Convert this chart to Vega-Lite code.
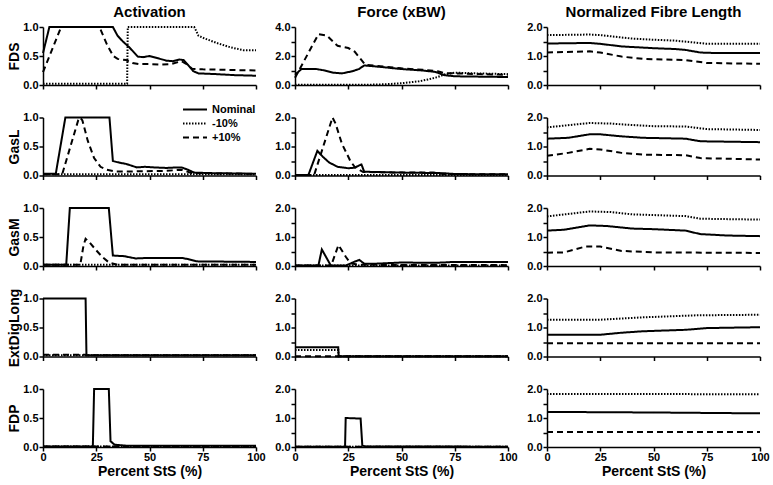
{
  "$schema": "https://vega.github.io/schema/vega-lite/v6.json",
  "background": "white",
  "padding": {"left": 7, "top": 5, "right": 0, "bottom": 5},
  "bounds": "flush",
  "columns": 3,
  "spacing": {"row": 32.5, "column": 39},
  "resolve": {"scale": {"strokeDash": "independent"}, "legend": {"strokeDash": "independent"}},
  "datasets": {
    "FDS_act": [
      {"c":"Nominal","x":0,"y":0.55},{"c":"Nominal","x":3,"y":1},{"c":"Nominal","x":32.8,"y":1},{"c":"Nominal","x":35,"y":0.85},{"c":"Nominal","x":37.5,"y":0.75},{"c":"Nominal","x":40.5,"y":0.65},{"c":"Nominal","x":44.5,"y":0.49},{"c":"Nominal","x":47,"y":0.48},{"c":"Nominal","x":50,"y":0.5},{"c":"Nominal","x":54,"y":0.46},{"c":"Nominal","x":58,"y":0.42},{"c":"Nominal","x":61,"y":0.41},{"c":"Nominal","x":64,"y":0.44},{"c":"Nominal","x":66,"y":0.43},{"c":"Nominal","x":68,"y":0.35},{"c":"Nominal","x":70.5,"y":0.24},{"c":"Nominal","x":73,"y":0.2},{"c":"Nominal","x":80,"y":0.19},{"c":"Nominal","x":90,"y":0.17},{"c":"Nominal","x":100,"y":0.16},
      {"c":"+10%","x":0,"y":0.22},{"c":"+10%","x":8.5,"y":1},{"c":"+10%","x":26.5,"y":1},{"c":"+10%","x":30,"y":0.7},{"c":"+10%","x":33,"y":0.5},{"c":"+10%","x":35,"y":0.45},{"c":"+10%","x":39,"y":0.43},{"c":"+10%","x":42,"y":0.38},{"c":"+10%","x":45,"y":0.36},{"c":"+10%","x":50,"y":0.36},{"c":"+10%","x":55,"y":0.35},{"c":"+10%","x":60,"y":0.36},{"c":"+10%","x":65,"y":0.41},{"c":"+10%","x":67,"y":0.37},{"c":"+10%","x":70,"y":0.28},{"c":"+10%","x":75,"y":0.27},{"c":"+10%","x":100,"y":0.25},
      {"c":"-10%","x":0,"y":0.02},{"c":"-10%","x":39.5,"y":0.02},{"c":"-10%","x":39.8,"y":1},{"c":"-10%","x":71,"y":1},{"c":"-10%","x":73,"y":0.85},{"c":"-10%","x":76,"y":0.8},{"c":"-10%","x":82,"y":0.72},{"c":"-10%","x":88,"y":0.65},{"c":"-10%","x":94,"y":0.6},{"c":"-10%","x":100,"y":0.6}
    ],
    "FDS_force": [
      {"c":"Nominal","x":0,"y":0.7},{"c":"Nominal","x":3,"y":1.1},{"c":"Nominal","x":10,"y":1.1},{"c":"Nominal","x":14,"y":1.0},{"c":"Nominal","x":18,"y":0.85},{"c":"Nominal","x":22,"y":0.8},{"c":"Nominal","x":27,"y":0.95},{"c":"Nominal","x":30,"y":1.1},{"c":"Nominal","x":32.5,"y":1.35},{"c":"Nominal","x":40,"y":1.25},{"c":"Nominal","x":50,"y":1.1},{"c":"Nominal","x":60,"y":1.0},{"c":"Nominal","x":66,"y":0.9},{"c":"Nominal","x":70,"y":0.68},{"c":"Nominal","x":75,"y":0.6},{"c":"Nominal","x":100,"y":0.55},
      {"c":"+10%","x":0,"y":0.5},{"c":"+10%","x":11,"y":3.5},{"c":"+10%","x":15,"y":3.4},{"c":"+10%","x":20,"y":2.7},{"c":"+10%","x":25,"y":2.55},{"c":"+10%","x":28,"y":2.3},{"c":"+10%","x":33,"y":1.4},{"c":"+10%","x":40,"y":1.3},{"c":"+10%","x":50,"y":1.15},{"c":"+10%","x":60,"y":1.05},{"c":"+10%","x":67,"y":0.95},{"c":"+10%","x":70,"y":0.82},{"c":"+10%","x":75,"y":0.8},{"c":"+10%","x":100,"y":0.7},
      {"c":"-10%","x":0,"y":0.02},{"c":"-10%","x":35,"y":0.02},{"c":"-10%","x":42,"y":0.05},{"c":"-10%","x":50,"y":0.12},{"c":"-10%","x":58,"y":0.25},{"c":"-10%","x":63,"y":0.4},{"c":"-10%","x":67,"y":0.55},{"c":"-10%","x":70,"y":0.72},{"c":"-10%","x":75,"y":0.85},{"c":"-10%","x":85,"y":0.8},{"c":"-10%","x":100,"y":0.75}
    ],
    "FDS_len": [
      {"c":"Nominal","x":0,"y":1.43},{"c":"Nominal","x":20,"y":1.45},{"c":"Nominal","x":25,"y":1.42},{"c":"Nominal","x":35,"y":1.33},{"c":"Nominal","x":50,"y":1.27},{"c":"Nominal","x":60,"y":1.24},{"c":"Nominal","x":65,"y":1.21},{"c":"Nominal","x":72,"y":1.12},{"c":"Nominal","x":80,"y":1.1},{"c":"Nominal","x":100,"y":1.1},
      {"c":"-10%","x":0,"y":1.72},{"c":"-10%","x":20,"y":1.74},{"c":"-10%","x":25,"y":1.72},{"c":"-10%","x":40,"y":1.6},{"c":"-10%","x":50,"y":1.56},{"c":"-10%","x":60,"y":1.53},{"c":"-10%","x":70,"y":1.46},{"c":"-10%","x":75,"y":1.42},{"c":"-10%","x":100,"y":1.42},
      {"c":"+10%","x":0,"y":1.12},{"c":"+10%","x":20,"y":1.16},{"c":"+10%","x":25,"y":1.12},{"c":"+10%","x":35,"y":0.98},{"c":"+10%","x":45,"y":0.9},{"c":"+10%","x":60,"y":0.87},{"c":"+10%","x":65,"y":0.86},{"c":"+10%","x":75,"y":0.76},{"c":"+10%","x":100,"y":0.73}
    ],
    "GasL_act": [
      {"c":"Nominal","x":0,"y":0.03},{"c":"Nominal","x":6,"y":0.03},{"c":"Nominal","x":10.5,"y":1},{"c":"Nominal","x":31.2,"y":1},{"c":"Nominal","x":32.8,"y":0.25},{"c":"Nominal","x":36,"y":0.22},{"c":"Nominal","x":39,"y":0.2},{"c":"Nominal","x":44,"y":0.14},{"c":"Nominal","x":48,"y":0.15},{"c":"Nominal","x":52,"y":0.14},{"c":"Nominal","x":58,"y":0.13},{"c":"Nominal","x":63,"y":0.14},{"c":"Nominal","x":65,"y":0.14},{"c":"Nominal","x":68,"y":0.1},{"c":"Nominal","x":71,"y":0.05},{"c":"Nominal","x":80,"y":0.04},{"c":"Nominal","x":100,"y":0.03},
      {"c":"+10%","x":0,"y":0.02},{"c":"+10%","x":9,"y":0.02},{"c":"+10%","x":16.5,"y":0.95},{"c":"+10%","x":17.5,"y":1.0},{"c":"+10%","x":18.5,"y":0.95},{"c":"+10%","x":21,"y":0.6},{"c":"+10%","x":24,"y":0.3},{"c":"+10%","x":27,"y":0.15},{"c":"+10%","x":30,"y":0.1},{"c":"+10%","x":34,"y":0.07},{"c":"+10%","x":42,"y":0.07},{"c":"+10%","x":58,"y":0.08},{"c":"+10%","x":65,"y":0.1},{"c":"+10%","x":70,"y":0.04},{"c":"+10%","x":100,"y":0.03},
      {"c":"-10%","x":0,"y":0.02},{"c":"-10%","x":100,"y":0.02}
    ],
    "GasL_force": [
      {"c":"Nominal","x":0,"y":0.02},{"c":"Nominal","x":6.3,"y":0.02},{"c":"Nominal","x":10.5,"y":0.85},{"c":"Nominal","x":13,"y":0.65},{"c":"Nominal","x":16,"y":0.45},{"c":"Nominal","x":20,"y":0.3},{"c":"Nominal","x":25,"y":0.25},{"c":"Nominal","x":28,"y":0.27},{"c":"Nominal","x":30.5,"y":0.36},{"c":"Nominal","x":31.2,"y":0.38},{"c":"Nominal","x":32.5,"y":0.13},{"c":"Nominal","x":50,"y":0.1},{"c":"Nominal","x":70,"y":0.08},{"c":"Nominal","x":75,"y":0.05},{"c":"Nominal","x":100,"y":0.04},
      {"c":"+10%","x":0,"y":0.02},{"c":"+10%","x":9,"y":0.02},{"c":"+10%","x":17.6,"y":2.0},{"c":"+10%","x":19,"y":1.8},{"c":"+10%","x":22,"y":1.1},{"c":"+10%","x":26,"y":0.5},{"c":"+10%","x":28,"y":0.3},{"c":"+10%","x":30,"y":0.2},{"c":"+10%","x":32,"y":0.12},{"c":"+10%","x":50,"y":0.1},{"c":"+10%","x":65,"y":0.1},{"c":"+10%","x":70,"y":0.05},{"c":"+10%","x":100,"y":0.04},
      {"c":"-10%","x":0,"y":0.02},{"c":"-10%","x":100,"y":0.02}
    ],
    "GasL_len": [
      {"c":"Nominal","x":0,"y":1.27},{"c":"Nominal","x":10,"y":1.3},{"c":"Nominal","x":20,"y":1.42},{"c":"Nominal","x":25,"y":1.42},{"c":"Nominal","x":35,"y":1.35},{"c":"Nominal","x":45,"y":1.3},{"c":"Nominal","x":65,"y":1.27},{"c":"Nominal","x":72,"y":1.18},{"c":"Nominal","x":100,"y":1.15},
      {"c":"-10%","x":0,"y":1.66},{"c":"-10%","x":20,"y":1.81},{"c":"-10%","x":30,"y":1.79},{"c":"-10%","x":40,"y":1.74},{"c":"-10%","x":50,"y":1.7},{"c":"-10%","x":65,"y":1.69},{"c":"-10%","x":75,"y":1.6},{"c":"-10%","x":100,"y":1.57},
      {"c":"+10%","x":0,"y":0.68},{"c":"+10%","x":10,"y":0.78},{"c":"+10%","x":20,"y":0.92},{"c":"+10%","x":25,"y":0.9},{"c":"+10%","x":35,"y":0.78},{"c":"+10%","x":45,"y":0.72},{"c":"+10%","x":65,"y":0.7},{"c":"+10%","x":72,"y":0.6},{"c":"+10%","x":100,"y":0.55}
    ],
    "GasM_act": [
      {"c":"Nominal","x":0,"y":0.02},{"c":"Nominal","x":10.9,"y":0.02},{"c":"Nominal","x":12.6,"y":1},{"c":"Nominal","x":30.9,"y":1},{"c":"Nominal","x":32.8,"y":0.18},{"c":"Nominal","x":38,"y":0.17},{"c":"Nominal","x":43.5,"y":0.13},{"c":"Nominal","x":50,"y":0.14},{"c":"Nominal","x":65,"y":0.14},{"c":"Nominal","x":68,"y":0.12},{"c":"Nominal","x":72,"y":0.08},{"c":"Nominal","x":100,"y":0.07},
      {"c":"+10%","x":0,"y":0.02},{"c":"+10%","x":17.5,"y":0.02},{"c":"+10%","x":19,"y":0.35},{"c":"+10%","x":20,"y":0.47},{"c":"+10%","x":22,"y":0.4},{"c":"+10%","x":25,"y":0.27},{"c":"+10%","x":28,"y":0.15},{"c":"+10%","x":31,"y":0.06},{"c":"+10%","x":35,"y":0.02},{"c":"+10%","x":100,"y":0.02},
      {"c":"-10%","x":0,"y":0.02},{"c":"-10%","x":100,"y":0.02}
    ],
    "GasM_force": [
      {"c":"Nominal","x":0,"y":0.02},{"c":"Nominal","x":11,"y":0.02},{"c":"Nominal","x":12.6,"y":0.57},{"c":"Nominal","x":16.8,"y":0.02},{"c":"Nominal","x":24,"y":0.02},{"c":"Nominal","x":28,"y":0.15},{"c":"Nominal","x":30.2,"y":0.21},{"c":"Nominal","x":32.5,"y":0.08},{"c":"Nominal","x":38,"y":0.08},{"c":"Nominal","x":44,"y":0.1},{"c":"Nominal","x":50,"y":0.12},{"c":"Nominal","x":65,"y":0.11},{"c":"Nominal","x":70,"y":0.12},{"c":"Nominal","x":74,"y":0.14},{"c":"Nominal","x":100,"y":0.14},
      {"c":"+10%","x":0,"y":0.02},{"c":"+10%","x":17,"y":0.02},{"c":"+10%","x":20.4,"y":0.72},{"c":"+10%","x":24,"y":0.3},{"c":"+10%","x":26,"y":0.1},{"c":"+10%","x":30,"y":0.04},{"c":"+10%","x":100,"y":0.03},
      {"c":"-10%","x":0,"y":0.02},{"c":"-10%","x":100,"y":0.02}
    ],
    "GasM_len": [
      {"c":"Nominal","x":0,"y":1.22},{"c":"Nominal","x":8,"y":1.25},{"c":"Nominal","x":20,"y":1.4},{"c":"Nominal","x":28,"y":1.38},{"c":"Nominal","x":40,"y":1.29},{"c":"Nominal","x":50,"y":1.27},{"c":"Nominal","x":65,"y":1.22},{"c":"Nominal","x":72,"y":1.1},{"c":"Nominal","x":85,"y":1.05},{"c":"Nominal","x":100,"y":1.03},
      {"c":"-10%","x":0,"y":1.71},{"c":"-10%","x":20,"y":1.88},{"c":"-10%","x":30,"y":1.86},{"c":"-10%","x":40,"y":1.78},{"c":"-10%","x":65,"y":1.72},{"c":"-10%","x":72,"y":1.63},{"c":"-10%","x":100,"y":1.6},
      {"c":"+10%","x":0,"y":0.46},{"c":"+10%","x":8,"y":0.47},{"c":"+10%","x":18,"y":0.67},{"c":"+10%","x":25,"y":0.67},{"c":"+10%","x":35,"y":0.52},{"c":"+10%","x":50,"y":0.47},{"c":"+10%","x":100,"y":0.45}
    ],
    "EDL_act": [
      {"c":"Nominal","x":0,"y":1},{"c":"Nominal","x":20,"y":1},{"c":"Nominal","x":20.4,"y":0.02},{"c":"Nominal","x":100,"y":0.02},
      {"c":"+10%","x":0,"y":0.03},{"c":"+10%","x":20,"y":0.03},{"c":"+10%","x":20.4,"y":0.02},{"c":"+10%","x":100,"y":0.02},
      {"c":"-10%","x":0,"y":0.02},{"c":"-10%","x":100,"y":0.02}
    ],
    "EDL_force": [
      {"c":"Nominal","x":0,"y":0.32},{"c":"Nominal","x":20.3,"y":0.32},{"c":"Nominal","x":20.5,"y":0.01},{"c":"Nominal","x":100,"y":0.01},
      {"c":"-10%","x":0,"y":0.22},{"c":"-10%","x":20.3,"y":0.22},{"c":"-10%","x":20.5,"y":0.01},{"c":"-10%","x":100,"y":0.01},
      {"c":"+10%","x":0,"y":0.01},{"c":"+10%","x":100,"y":0.01}
    ],
    "EDL_len": [
      {"c":"Nominal","x":0,"y":0.75},{"c":"Nominal","x":25,"y":0.75},{"c":"Nominal","x":35,"y":0.82},{"c":"Nominal","x":45,"y":0.87},{"c":"Nominal","x":65,"y":0.92},{"c":"Nominal","x":75,"y":0.98},{"c":"Nominal","x":100,"y":1.01},
      {"c":"-10%","x":0,"y":1.27},{"c":"-10%","x":25,"y":1.27},{"c":"-10%","x":45,"y":1.35},{"c":"-10%","x":70,"y":1.42},{"c":"-10%","x":100,"y":1.44},
      {"c":"+10%","x":0,"y":0.46},{"c":"+10%","x":100,"y":0.46}
    ],
    "FDP_act": [
      {"c":"Nominal","x":0,"y":0.01},{"c":"Nominal","x":23.4,"y":0.01},{"c":"Nominal","x":24,"y":1},{"c":"Nominal","x":30.9,"y":1},{"c":"Nominal","x":31.7,"y":0.1},{"c":"Nominal","x":33.6,"y":0.04},{"c":"Nominal","x":40,"y":0.02},{"c":"Nominal","x":100,"y":0.02},
      {"c":"+10%","x":0,"y":0.01},{"c":"+10%","x":100,"y":0.01},
      {"c":"-10%","x":0,"y":0.01},{"c":"-10%","x":100,"y":0.01}
    ],
    "FDP_force": [
      {"c":"Nominal","x":0,"y":0.01},{"c":"Nominal","x":23.5,"y":0.01},{"c":"Nominal","x":23.8,"y":1.0},{"c":"Nominal","x":30.8,"y":0.98},{"c":"Nominal","x":31.6,"y":0.05},{"c":"Nominal","x":33,"y":0.02},{"c":"Nominal","x":100,"y":0.01},
      {"c":"+10%","x":0,"y":0.01},{"c":"+10%","x":100,"y":0.01},
      {"c":"-10%","x":0,"y":0.01},{"c":"-10%","x":100,"y":0.01}
    ],
    "FDP_len": [
      {"c":"Nominal","x":0,"y":1.21},{"c":"Nominal","x":50,"y":1.19},{"c":"Nominal","x":100,"y":1.16},
      {"c":"-10%","x":0,"y":1.83},{"c":"-10%","x":100,"y":1.82},
      {"c":"+10%","x":0,"y":0.52},{"c":"+10%","x":100,"y":0.52}
    ]
  },
  "concat": [
    {"width":213,"height":58,"data":{"name":"FDS_act"},"title":"Activation","mark":"line",
     "encoding":{"x":{"field":"x","type":"quantitative","scale":{"domain":[0,100],"nice":false},"axis":{"title":null,"labels":false,"values":[0,25,50,75,100]}},
      "y":{"field":"y","type":"quantitative","scale":{"domain":[0,1],"nice":false},"axis":{"title":"FDS","values":[0,0.5,1],"format":".1f"}},
      "strokeDash":{"field":"c","type":"nominal","scale":{"domain":["Nominal","-10%","+10%"],"range":[[1,0],[1.5,1.5],[6,4]]},"legend":null}}},
    {"width":213,"height":58,"data":{"name":"FDS_force"},"title":"Force (xBW)","mark":"line",
     "encoding":{"x":{"field":"x","type":"quantitative","scale":{"domain":[0,100],"nice":false},"axis":{"title":null,"labels":false,"values":[0,25,50,75,100]}},
      "y":{"field":"y","type":"quantitative","scale":{"domain":[0,4],"nice":false},"axis":{"title":null,"values":[0,1,2,3,4],"labelExpr":"datum.value % 2 === 0 ? format(datum.value, '.1f') : ''"}},
      "strokeDash":{"field":"c","type":"nominal","scale":{"domain":["Nominal","-10%","+10%"],"range":[[1,0],[1.5,1.5],[6,4]]},"legend":null}}},
    {"width":213,"height":58,"data":{"name":"FDS_len"},"title":"Normalized Fibre Length","mark":"line",
     "encoding":{"x":{"field":"x","type":"quantitative","scale":{"domain":[0,100],"nice":false},"axis":{"title":null,"labels":false,"values":[0,25,50,75,100]}},
      "y":{"field":"y","type":"quantitative","scale":{"domain":[0,2],"nice":false},"axis":{"title":null,"values":[0,0.5,1,1.5,2],"labelExpr":"datum.value % 1 === 0 ? format(datum.value, '.1f') : ''"}},
      "strokeDash":{"field":"c","type":"nominal","scale":{"domain":["Nominal","-10%","+10%"],"range":[[1,0],[1.5,1.5],[6,4]]},"legend":null}}},

    {"width":213,"height":58,"data":{"name":"GasL_act"},"mark":"line",
     "encoding":{"x":{"field":"x","type":"quantitative","scale":{"domain":[0,100],"nice":false},"axis":{"title":null,"labels":false,"values":[0,25,50,75,100]}},
      "y":{"field":"y","type":"quantitative","scale":{"domain":[0,1],"nice":false},"axis":{"title":"GasL","values":[0,0.5,1],"format":".1f"}},
      "strokeDash":{"field":"c","type":"nominal","scale":{"domain":["Nominal","-10%","+10%"],"range":[[1,0],[1.5,1.5],[6,4]]},
        "legend":{"title":null,"orient":"none","legendX":146,"legendY":-14,"symbolType":"M-2.4,0H2.4","symbolSize":100,"symbolStrokeWidth":2,"symbolStrokeColor":"black","labelFont":"Liberation Sans","labelFontSize":11,"labelFontWeight":"bold","labelColor":"black","labelOffset":11,"rowPadding":3}}}},
    {"width":213,"height":58,"data":{"name":"GasL_force"},"mark":"line",
     "encoding":{"x":{"field":"x","type":"quantitative","scale":{"domain":[0,100],"nice":false},"axis":{"title":null,"labels":false,"values":[0,25,50,75,100]}},
      "y":{"field":"y","type":"quantitative","scale":{"domain":[0,2],"nice":false},"axis":{"title":null,"values":[0,0.5,1,1.5,2],"labelExpr":"datum.value % 1 === 0 ? format(datum.value, '.1f') : ''"}},
      "strokeDash":{"field":"c","type":"nominal","scale":{"domain":["Nominal","-10%","+10%"],"range":[[1,0],[1.5,1.5],[6,4]]},"legend":null}}},
    {"width":213,"height":58,"data":{"name":"GasL_len"},"mark":"line",
     "encoding":{"x":{"field":"x","type":"quantitative","scale":{"domain":[0,100],"nice":false},"axis":{"title":null,"labels":false,"values":[0,25,50,75,100]}},
      "y":{"field":"y","type":"quantitative","scale":{"domain":[0,2],"nice":false},"axis":{"title":null,"values":[0,0.5,1,1.5,2],"labelExpr":"datum.value % 1 === 0 ? format(datum.value, '.1f') : ''"}},
      "strokeDash":{"field":"c","type":"nominal","scale":{"domain":["Nominal","-10%","+10%"],"range":[[1,0],[1.5,1.5],[6,4]]},"legend":null}}},

    {"width":213,"height":58,"data":{"name":"GasM_act"},"mark":"line",
     "encoding":{"x":{"field":"x","type":"quantitative","scale":{"domain":[0,100],"nice":false},"axis":{"title":null,"labels":false,"values":[0,25,50,75,100]}},
      "y":{"field":"y","type":"quantitative","scale":{"domain":[0,1],"nice":false},"axis":{"title":"GasM","values":[0,0.5,1],"format":".1f"}},
      "strokeDash":{"field":"c","type":"nominal","scale":{"domain":["Nominal","-10%","+10%"],"range":[[1,0],[1.5,1.5],[6,4]]},"legend":null}}},
    {"width":213,"height":58,"data":{"name":"GasM_force"},"mark":"line",
     "encoding":{"x":{"field":"x","type":"quantitative","scale":{"domain":[0,100],"nice":false},"axis":{"title":null,"labels":false,"values":[0,25,50,75,100]}},
      "y":{"field":"y","type":"quantitative","scale":{"domain":[0,2],"nice":false},"axis":{"title":null,"values":[0,0.5,1,1.5,2],"labelExpr":"datum.value % 1 === 0 ? format(datum.value, '.1f') : ''"}},
      "strokeDash":{"field":"c","type":"nominal","scale":{"domain":["Nominal","-10%","+10%"],"range":[[1,0],[1.5,1.5],[6,4]]},"legend":null}}},
    {"width":213,"height":58,"data":{"name":"GasM_len"},"mark":"line",
     "encoding":{"x":{"field":"x","type":"quantitative","scale":{"domain":[0,100],"nice":false},"axis":{"title":null,"labels":false,"values":[0,25,50,75,100]}},
      "y":{"field":"y","type":"quantitative","scale":{"domain":[0,2],"nice":false},"axis":{"title":null,"values":[0,0.5,1,1.5,2],"labelExpr":"datum.value % 1 === 0 ? format(datum.value, '.1f') : ''"}},
      "strokeDash":{"field":"c","type":"nominal","scale":{"domain":["Nominal","-10%","+10%"],"range":[[1,0],[1.5,1.5],[6,4]]},"legend":null}}},

    {"width":213,"height":58,"data":{"name":"EDL_act"},"mark":"line",
     "encoding":{"x":{"field":"x","type":"quantitative","scale":{"domain":[0,100],"nice":false},"axis":{"title":null,"labels":false,"values":[0,25,50,75,100]}},
      "y":{"field":"y","type":"quantitative","scale":{"domain":[0,1],"nice":false},"axis":{"title":"ExtDigLong","values":[0,0.5,1],"format":".1f"}},
      "strokeDash":{"field":"c","type":"nominal","scale":{"domain":["Nominal","-10%","+10%"],"range":[[1,0],[1.5,1.5],[6,4]]},"legend":null}}},
    {"width":213,"height":58,"data":{"name":"EDL_force"},"mark":"line",
     "encoding":{"x":{"field":"x","type":"quantitative","scale":{"domain":[0,100],"nice":false},"axis":{"title":null,"labels":false,"values":[0,25,50,75,100]}},
      "y":{"field":"y","type":"quantitative","scale":{"domain":[0,2],"nice":false},"axis":{"title":null,"values":[0,0.5,1,1.5,2],"labelExpr":"datum.value % 1 === 0 ? format(datum.value, '.1f') : ''"}},
      "strokeDash":{"field":"c","type":"nominal","scale":{"domain":["Nominal","-10%","+10%"],"range":[[1,0],[1.5,1.5],[6,4]]},"legend":null}}},
    {"width":213,"height":58,"data":{"name":"EDL_len"},"mark":"line",
     "encoding":{"x":{"field":"x","type":"quantitative","scale":{"domain":[0,100],"nice":false},"axis":{"title":null,"labels":false,"values":[0,25,50,75,100]}},
      "y":{"field":"y","type":"quantitative","scale":{"domain":[0,2],"nice":false},"axis":{"title":null,"values":[0,0.5,1,1.5,2],"labelExpr":"datum.value % 1 === 0 ? format(datum.value, '.1f') : ''"}},
      "strokeDash":{"field":"c","type":"nominal","scale":{"domain":["Nominal","-10%","+10%"],"range":[[1,0],[1.5,1.5],[6,4]]},"legend":null}}},

    {"width":213,"height":58,"data":{"name":"FDP_act"},"mark":"line",
     "encoding":{"x":{"field":"x","type":"quantitative","scale":{"domain":[0,100],"nice":false},"axis":{"title":"Percent StS (%)","values":[0,25,50,75,100],"format":"d"}},
      "y":{"field":"y","type":"quantitative","scale":{"domain":[0,1],"nice":false},"axis":{"title":"FDP","values":[0,0.5,1],"format":".1f"}},
      "strokeDash":{"field":"c","type":"nominal","scale":{"domain":["Nominal","-10%","+10%"],"range":[[1,0],[1.5,1.5],[6,4]]},"legend":null}}},
    {"width":213,"height":58,"data":{"name":"FDP_force"},"mark":"line",
     "encoding":{"x":{"field":"x","type":"quantitative","scale":{"domain":[0,100],"nice":false},"axis":{"title":"Percent StS (%)","values":[0,25,50,75,100],"format":"d"}},
      "y":{"field":"y","type":"quantitative","scale":{"domain":[0,2],"nice":false},"axis":{"title":null,"values":[0,0.5,1,1.5,2],"labelExpr":"datum.value % 1 === 0 ? format(datum.value, '.1f') : ''"}},
      "strokeDash":{"field":"c","type":"nominal","scale":{"domain":["Nominal","-10%","+10%"],"range":[[1,0],[1.5,1.5],[6,4]]},"legend":null}}},
    {"width":213,"height":58,"data":{"name":"FDP_len"},"mark":"line",
     "encoding":{"x":{"field":"x","type":"quantitative","scale":{"domain":[0,100],"nice":false},"axis":{"title":"Percent StS (%)","values":[0,25,50,75,100],"format":"d"}},
      "y":{"field":"y","type":"quantitative","scale":{"domain":[0,2],"nice":false},"axis":{"title":null,"values":[0,0.5,1,1.5,2],"labelExpr":"datum.value % 1 === 0 ? format(datum.value, '.1f') : ''"}},
      "strokeDash":{"field":"c","type":"nominal","scale":{"domain":["Nominal","-10%","+10%"],"range":[[1,0],[1.5,1.5],[6,4]]},"legend":null}}}
  ],
  "config": {
    "view": {"stroke": null},
    "font": "Liberation Sans",
    "line": {"color": "black", "strokeWidth": 2},
    "axis": {"grid": false, "labelFlush": false, "domainColor": "black", "domainWidth": 1.5, "tickColor": "black", "tickWidth": 1.5, "tickSize": 4, "labelFont": "Liberation Sans", "labelFontSize": 11, "labelFontWeight": "bold", "labelColor": "black", "labelPadding": 1, "titleFont": "Liberation Sans", "titleFontSize": 14, "titleFontWeight": "bold", "titleColor": "black"},
    "axisY": {"titlePadding": 1},
    "axisX": {"titlePadding": 2, "labelPadding": 0},
    "title": {"font": "Liberation Sans", "fontSize": 15, "fontWeight": "bold", "color": "black", "offset": 1, "anchor": "middle"}
  }
}
